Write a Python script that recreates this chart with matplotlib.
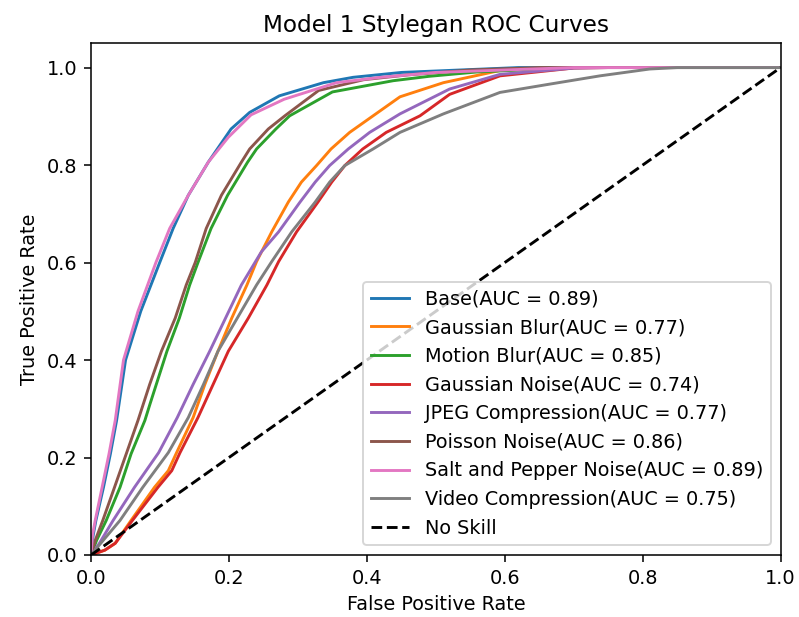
import matplotlib
matplotlib.use("Agg")
import matplotlib.pyplot as plt

# (fpr, tpr) points
base_fpr = [0, 0.003, 0.007, 0.018, 0.028, 0.037, 0.05, 0.072, 0.0995, 0.119, 0.141, 0.170, 0.203, 0.230, 0.273, 0.337, 0.38, 0.45, 0.62, 1]
base_tpr = [0, 0.04, 0.071, 0.139, 0.2075, 0.276, 0.4, 0.5, 0.6, 0.67, 0.738, 0.806, 0.874, 0.908, 0.942, 0.969, 0.98, 0.99, 1, 1]

gblur_fpr = [0, 0.02, 0.035, 0.058, 0.092, 0.112, 0.124, 0.148, 0.165, 0.184, 0.204, 0.226, 0.240, 0.262, 0.286, 0.305, 0.327, 0.348, 0.375, 0.409, 0.448, 0.511, 0.593, 0.7, 1]
gblur_tpr = [0, 0.01, 0.024, 0.071, 0.139, 0.173, 0.21, 0.282, 0.35, 0.418, 0.486, 0.554, 0.602, 0.663, 0.724, 0.765, 0.799, 0.833, 0.867, 0.901, 0.94, 0.969, 0.994, 1, 1]

mblur_fpr = [0, 0.008, 0.022, 0.042, 0.058, 0.078, 0.0855, 0.11, 0.128, 0.143, 0.155, 0.174, 0.198, 0.227, 0.240, 0.268, 0.288, 0.35, 0.438, 0.49, 0.56, 0.7, 1]
mblur_tpr = [0, 0.03, 0.071, 0.139, 0.2075, 0.276, 0.31, 0.418, 0.486, 0.554, 0.6, 0.67, 0.738, 0.806, 0.833, 0.874, 0.901, 0.95, 0.973, 0.982, 0.991, 1, 1]

gnoise_fpr = [0, 0.02, 0.035, 0.06, 0.097, 0.117, 0.129, 0.155, 0.177, 0.199, 0.228, 0.255, 0.272, 0.298, 0.329, 0.349, 0.368, 0.394, 0.428, 0.477, 0.52, 0.593, 0.7, 0.75, 1]
gnoise_tpr = [0, 0.01, 0.024, 0.071, 0.139, 0.173, 0.21, 0.282, 0.35, 0.418, 0.486, 0.554, 0.602, 0.663, 0.724, 0.765, 0.799, 0.833, 0.867, 0.901, 0.945, 0.983, 0.999, 1, 1]

jpeg_fpr = [0, 0.012, 0.032, 0.063, 0.098, 0.125, 0.148, 0.172, 0.195, 0.218, 0.247, 0.272, 0.303, 0.325, 0.346, 0.373, 0.404, 0.448, 0.52, 0.593, 0.7, 0.75, 1]
jpeg_tpr = [0, 0.024, 0.071, 0.139, 0.21, 0.282, 0.35, 0.418, 0.486, 0.554, 0.622, 0.663, 0.724, 0.765, 0.799, 0.833, 0.867, 0.905, 0.956, 0.986, 0.999, 1, 1]

poisson_fpr = [0, 0.006, 0.017, 0.034, 0.051, 0.068, 0.085, 0.102, 0.122, 0.138, 0.151, 0.167, 0.189, 0.218, 0.230, 0.257, 0.281, 0.33, 0.395, 0.46, 0.55, 0.65, 1]
poisson_tpr = [0, 0.03, 0.071, 0.139, 0.2075, 0.276, 0.35, 0.418, 0.486, 0.554, 0.6, 0.67, 0.738, 0.806, 0.833, 0.874, 0.901, 0.953, 0.975, 0.985, 0.995, 1, 1]

sp_fpr = [0, 0.002, 0.006, 0.016, 0.026, 0.035, 0.047, 0.068, 0.094, 0.114, 0.141, 0.170, 0.199, 0.232, 0.28, 0.356, 0.42, 0.5, 0.7, 1]
sp_tpr = [0, 0.04, 0.071, 0.139, 0.2075, 0.276, 0.4, 0.5, 0.6, 0.67, 0.738, 0.806, 0.857, 0.903, 0.935, 0.969, 0.98, 0.99, 1, 1]

video_fpr = [0, 0.014, 0.042, 0.075, 0.112, 0.141, 0.163, 0.184, 0.212, 0.240, 0.262, 0.291, 0.325, 0.346, 0.368, 0.409, 0.448, 0.511, 0.593, 0.665, 0.738, 0.81, 0.85, 1]
video_tpr = [0, 0.024, 0.071, 0.139, 0.21, 0.282, 0.35, 0.418, 0.486, 0.554, 0.602, 0.663, 0.724, 0.765, 0.799, 0.833, 0.867, 0.905, 0.949, 0.966, 0.983, 0.997, 1, 1]

names = ["Base", "Gaussian Blur", "Motion Blur", "Gaussian Noise", "JPEG Compression",
         "Poisson Noise", "Salt and Pepper Noise", "Video Compression"]
aucs = [0.89, 0.77, 0.85, 0.74, 0.77, 0.86, 0.89, 0.75]
curves = [(base_fpr, base_tpr), (gblur_fpr, gblur_tpr), (mblur_fpr, mblur_tpr),
          (gnoise_fpr, gnoise_tpr), (jpeg_fpr, jpeg_tpr), (poisson_fpr, poisson_tpr),
          (sp_fpr, sp_tpr), (video_fpr, video_tpr)]

fig = plt.figure(figsize=(799 / 139, 617 / 139), dpi=139)
ax = fig.add_axes([0.114, 0.1005, 0.863, 0.8295])

for name, auc, (fpr, tpr) in zip(names, aucs, curves):
    ax.plot(fpr, tpr, label=f"{name}(AUC = {auc:.2f})")
ax.plot([0, 1], [0, 1], "k--", label="No Skill")

ax.set_xlim(0, 1)
ax.set_ylim(0, 1.05)
ax.set_xlabel("False Positive Rate")
ax.set_ylabel("True Positive Rate")
ax.set_title("Model 1 Stylegan ROC Curves")
ax.legend(loc="lower right")

fig.savefig("out.png", dpi=139)
